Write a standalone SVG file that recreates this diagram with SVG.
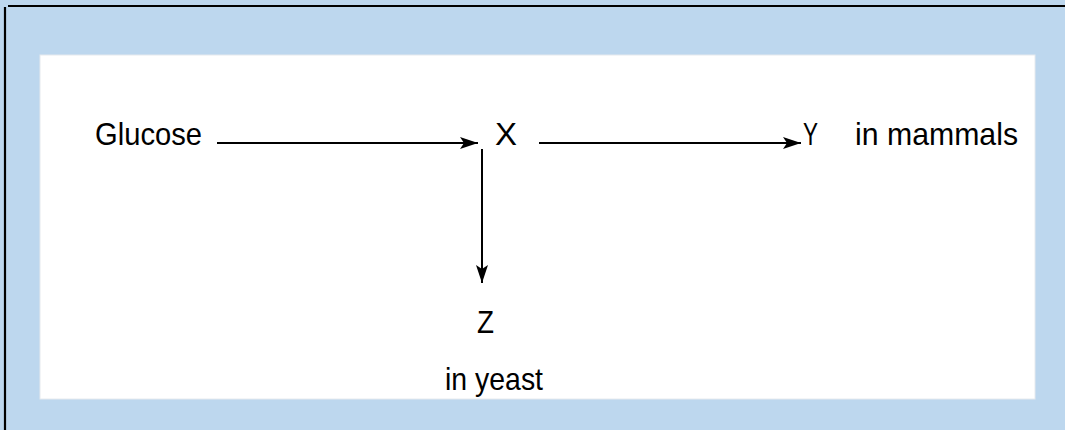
<svg xmlns="http://www.w3.org/2000/svg" width="1065" height="430" viewBox="0 0 1065 430">
<style>
.t{font-family:"Liberation Sans",Arial,sans-serif;font-size:32px;fill:#000}
.c{stroke:#000;stroke-width:2;fill:none}
</style>
<defs>
<marker id="ah" viewBox="0 0 18 12" refX="18" refY="6" markerWidth="18" markerHeight="12" markerUnits="userSpaceOnUse" orient="auto">
<path d="M0,0 L18,6 L0,12 L4,6 Z" fill="#000"/>
</marker>
</defs>
<rect x="0" y="0" width="1065" height="430" fill="#BDD7EE"/>
<line x1="8" y1="6" x2="1065" y2="6" stroke="#000" stroke-width="2.2"/>
<line x1="5" y1="7" x2="5" y2="430" stroke="#000" stroke-width="2.2"/>
<rect x="40" y="55" width="995" height="344" fill="#fff" stroke="#e6eaee" stroke-width="1"/>
<g id="glucose"><text class="t" x="95" y="145" textLength="107" lengthAdjust="spacingAndGlyphs">Glucose</text></g>
<g id="x"><text class="t" x="495" y="145" textLength="22" lengthAdjust="spacingAndGlyphs">X</text></g>
<g id="y"><text class="t" x="803" y="145" textLength="15" lengthAdjust="spacingAndGlyphs">Y</text></g>
<g id="mammals"><text class="t" x="855" y="145" textLength="163" lengthAdjust="spacingAndGlyphs">in mammals</text></g>
<g id="z"><text class="t" x="477" y="333" textLength="17" lengthAdjust="spacingAndGlyphs">Z</text></g>
<g id="yeast"><text class="t" x="445" y="390" textLength="98" lengthAdjust="spacingAndGlyphs">in yeast</text></g>
<g id="connectors">
<line class="c" x1="217" y1="143" x2="478" y2="143" marker-end="url(#ah)"/>
<line class="c" x1="539" y1="143" x2="801" y2="143" marker-end="url(#ah)"/>
<line class="c" x1="482" y1="149" x2="482" y2="283" marker-end="url(#ah)"/>
</g>
</svg>
